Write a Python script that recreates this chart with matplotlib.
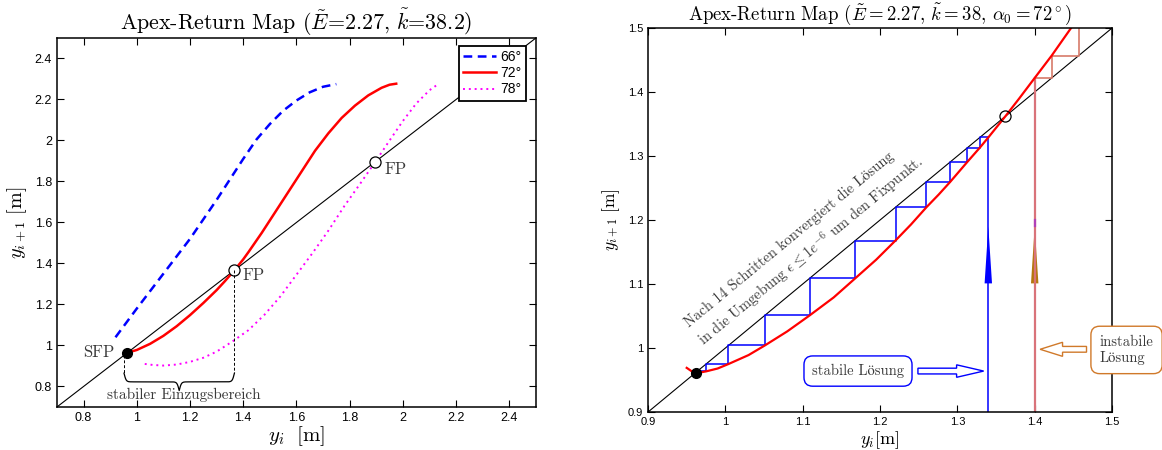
import numpy as np
import matplotlib
matplotlib.use("Agg")
import matplotlib.pyplot as plt
from matplotlib.patches import FancyArrow, Polygon
from matplotlib.ticker import FormatStrFormatter

plt.rcParams['font.family'] = ['Liberation Sans', 'DejaVu Sans']
plt.rcParams['mathtext.fontset'] = 'cm'
SERIF = ['cmr10', 'STIXGeneral']
GREY = '#3a3a3a'

# Apex-Return Map, drei Anstellwinkel (links)
x66 = [0.92, 1.0, 1.1, 1.2, 1.3, 1.4, 1.45, 1.5, 1.55, 1.6, 1.65, 1.7, 1.75]
y66 = [1.04, 1.18, 1.35, 1.52, 1.71, 1.91, 2.005, 2.08, 2.145, 2.195, 2.235, 2.262, 2.275]

x72 = [0.965, 1.0, 1.05, 1.1, 1.15, 1.2, 1.25, 1.3, 1.33, 1.367, 1.4, 1.42, 1.47, 1.52, 1.57, 1.62,
       1.67, 1.72, 1.77, 1.82, 1.87, 1.92, 1.95, 1.975]
y72 = [0.965, 0.978, 1.008, 1.047, 1.094, 1.148, 1.207, 1.27, 1.312, 1.367, 1.42, 1.456, 1.55, 1.65,
       1.75, 1.85, 1.95, 2.035, 2.11, 2.17, 2.22, 2.257, 2.272, 2.277]

x78 = [1.03, 1.06, 1.10, 1.15, 1.20, 1.25, 1.30, 1.36, 1.42, 1.48, 1.54, 1.60, 1.66, 1.72, 1.78,
       1.84, 1.897, 1.95, 2.0, 2.05, 2.10, 2.135]
y78 = [0.91, 0.905, 0.902, 0.907, 0.92, 0.94, 0.97, 1.02, 1.075, 1.15, 1.24, 1.345, 1.45, 1.56, 1.68,
       1.79, 1.897, 2.0, 2.095, 2.18, 2.245, 2.277]

sfp = 0.965
fixpunkte = [1.367, 1.897]
basin = [0.952, 1.367]
winkel = ['66°', '72°', '78°']

# Verlauf fuer alpha0 = 72 Grad mit Iterationen (rechts)
r_x = [0.950, 0.956, 0.962, 0.968, 0.975, 0.990, 1.004, 1.030, 1.051, 1.080, 1.109, 1.140, 1.168,
       1.195, 1.220, 1.240, 1.260, 1.276, 1.291, 1.313, 1.329, 1.340, 1.362, 1.380, 1.400, 1.422,
       1.447, 1.457]
r_y = [0.969, 0.964, 0.962, 0.962, 0.9635, 0.968, 0.975, 0.989, 1.004, 1.026, 1.051, 1.079, 1.109,
       1.138, 1.168, 1.193, 1.220, 1.240, 1.260, 1.291, 1.313, 1.329, 1.362, 1.390, 1.422, 1.457,
       1.500, 1.515]
stabil = [1.340, 1.329, 1.313, 1.291, 1.260, 1.220, 1.168, 1.109, 1.051, 1.004, 0.975, 0.9635, 0.962]
instabil = [1.400, 1.422, 1.457, 1.515]
r_sfp = 0.9615
r_fp = 1.362

ticks_l = [0.8, 1.0, 1.2, 1.4, 1.6, 1.8, 2.0, 2.2, 2.4]
ticks_r = [0.9, 1.0, 1.1, 1.2, 1.3, 1.4, 1.5]


def brace(ax, x0, x1, y, h, beta=250.0, n=201):
    xs = np.linspace(x0, x1, n)
    half = xs[:n // 2 + 1]
    yh = 1 / (1 + np.exp(-beta * (half - half[0]))) + 1 / (1 + np.exp(-beta * (half - half[-1])))
    yb = np.concatenate((yh, yh[-2::-1]))
    ax.plot(xs, y - h * (yb - 0.5), color='k', lw=0.9)


def cobweb(iters, y0):
    px, py = [iters[0]], [y0]
    for a, b in zip(iters[:-1], iters[1:]):
        px += [a, b]
        py += [b, b]
    return px, py


def style(ax, lo, hi, ticks, size):
    ax.set_xlim(lo, hi)
    ax.set_ylim(lo, hi)
    ax.set_xticks(ticks)
    ax.set_yticks(ticks)
    ax.xaxis.set_major_formatter(FormatStrFormatter('%g'))
    ax.yaxis.set_major_formatter(FormatStrFormatter('%g'))
    ax.tick_params(direction='in', top=True, right=True, length=5, width=0.8, labelsize=size)
    for s in ax.spines.values():
        s.set_linewidth(1.1)


fig = plt.figure(figsize=(11.62, 4.5), dpi=100)
ax1 = fig.add_axes([0.049, 0.0956, 0.4122, 0.82])
ax2 = fig.add_axes([0.5577, 0.0844, 0.3993, 0.8533])

# ---------------- links ----------------
style(ax1, 0.7, 2.5, ticks_l, 9)
ax1.plot([0.7, 2.5], [0.7, 2.5], color='k', lw=0.8)
l66, = ax1.plot(x66, y66, color='#0000ff', lw=1.8, dashes=(3.5, 2.2))
l72, = ax1.plot(x72, y72, color='#ff0000', lw=1.8)
l78, = ax1.plot(x78, y78, color='#ff00ff', lw=1.4, linestyle=(0, (1, 2)))

ax1.plot([sfp], [sfp], 'o', color='k', ms=7)
ax1.plot(fixpunkte, fixpunkte, 'o', mfc='white', mec='k', mew=0.9, ms=8)

for b in basin:
    ax1.plot([b, b], [b, 0.865], color='k', lw=0.7, dashes=(3, 2))
brace(ax1, basin[0], basin[1], 0.865, 0.085)

ax1.text(0.915, sfp, 'SFP', ha='right', va='center', fontsize=12, color=GREY, family=SERIF)
ax1.text(1.397, 1.342, 'FP', ha='left', va='center', fontsize=12, color=GREY, family=SERIF)
ax1.text(1.932, 1.859, 'FP', ha='left', va='center', fontsize=12, color=GREY, family=SERIF)
ax1.text(1.176, 0.738, 'stabiler Einzugsbereich', ha='center', va='baseline', fontsize=11,
         color=GREY, family=SERIF)

ax1.set_title(r'Apex-Return Map ($\tilde{E}$=2.27, $\tilde{k}$=38.2)', fontsize=15.8,
              family=SERIF, pad=6)
ax1.set_xlabel(r'$y_i\ \ [\mathrm{m}]$', fontsize=15, labelpad=0)
ax1.set_ylabel(r'$y_{i+1}\ [\mathrm{m}]$', fontsize=14.5, labelpad=4)

leg = ax1.legend([l66, l72, l78], winkel, loc='upper right', bbox_to_anchor=(0.979, 0.978),
                 fancybox=False, edgecolor='k', framealpha=1, fontsize=10, handlelength=2.4,
                 borderpad=0.3, labelspacing=0.15, handletextpad=0.3, borderaxespad=0)
leg.get_frame().set_linewidth(1.3)

# ---------------- rechts ----------------
style(ax2, 0.9, 1.5, ticks_r, 8)
ax2.plot([0.9, 1.5], [0.9, 1.5], color='k', lw=0.8)

sx, sy = cobweb(stabil, 0.9)
ax2.plot(sx, sy, color='#0000ff', lw=1.1)
ux, uy = cobweb(instabil, 0.9)
ax2.plot(ux[:2], uy[:2], color='#d9737a', lw=1.6)
ax2.plot(ux[1:], uy[1:], color='#d77a6a', lw=1.2)
ax2.plot(r_x, r_y, color='#ff0000', lw=1.6)

ax2.plot([r_sfp], [r_sfp], 'o', color='k', ms=7)
ax2.plot([r_fp], [r_fp], 'o', mfc='none', mec='k', mew=0.9, ms=8)

# Pfeilspitzen auf den Startlinien
w = 0.0096
ax2.add_patch(Polygon([(stabil[0] - w / 2, 1.101), (stabil[0] + w / 2, 1.101), (stabil[0], 1.19)],
                      closed=True, color='#0000ff', lw=0))
ax2.plot([instabil[0]] * 2, [1.19, 1.2], color='#b040b8', lw=1.6)
ax2.add_patch(Polygon([(instabil[0] - w / 2, 1.101), (instabil[0] + w / 2, 1.101), (instabil[0], 1.19)],
                      closed=True, color='#b5770e', lw=0))

ax2.text(0.96, 1.0216, 'Nach 14 Schritten konvergiert die Lösung\n'
         r'in die Umgebung $\epsilon \leq 1e^{-6}$ um den Fixpunkt.',
         rotation=39.6, rotation_mode='anchor', ha='left', va='center', multialignment='left',
         fontsize=10.5, color=GREY, family=SERIF, linespacing=1.35)

ax2.text(1.1715, 0.964, 'stabile Lösung', ha='center', va='center', fontsize=10.5, color=GREY,
         family=SERIF,
         bbox=dict(boxstyle='round,pad=0.55,rounding_size=0.6', fc='white', ec='#0000ff', lw=1.0))
ax2.add_patch(FancyArrow(1.249, 0.964, 0.085, 0, width=0.009, head_width=0.0195, head_length=0.035,
                         length_includes_head=True, fc='white', ec='#0000ff', lw=1.0))

ax2.text(1.484, 0.997, 'instabile\nLösung', ha='left', va='center', multialignment='left',
         fontsize=10.5, color=GREY, family=SERIF, clip_on=False, zorder=5,
         bbox=dict(boxstyle='round,pad=0.6,rounding_size=0.6', fc='white', ec='#d0792a', lw=1.0))
ax2.add_patch(FancyArrow(1.467, 0.998, -0.060, 0, width=0.009, head_width=0.022, head_length=0.029,
                         length_includes_head=True, fc='white', ec='#d0792a', lw=1.0))

ax2.set_title(r'Apex-Return Map ($\tilde{E}=2.27$, $\tilde{k}=38$, $\alpha_0=72^\circ$)',
              fontsize=13.5, family=SERIF, pad=6)
ax2.set_xlabel(r'$y_i[\mathrm{m}]$', fontsize=13, labelpad=2)
ax2.set_ylabel(r'$y_{i+1}\ [\mathrm{m}]$', fontsize=12.5, labelpad=4)

fig.savefig('out.png', dpi=100)
